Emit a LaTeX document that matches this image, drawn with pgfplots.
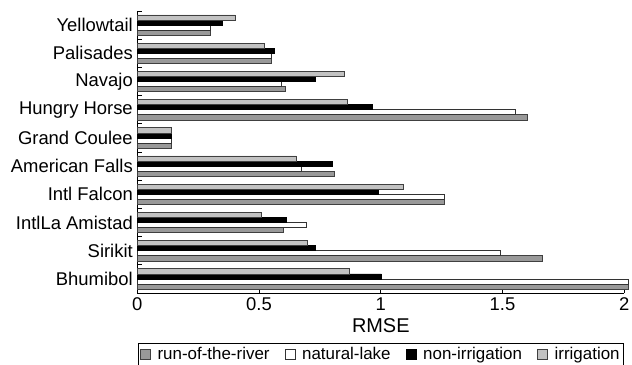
\documentclass[border=0pt]{standalone}
\usepackage{pgfplots}
\pgfplotsset{compat=1.18}
\usepackage{pgfplotstable}
\usepackage{fontspec}
\setmainfont{Liberation Sans}
\definecolor{rorgray}{gray}{0.6}
\definecolor{irrgray}{gray}{0.76}
\pgfplotstableread{
y ror nat non irr
0 2.016 2.016 1.002 0.871
1 1.662 1.492 0.733 0.700
2 0.601 0.692 0.611 0.509
3 1.260 1.260 0.991 1.091
4 0.809 0.672 0.801 0.652
5 0.138 0.138 0.138 0.138
6 1.602 1.551 0.964 0.862
7 0.609 0.593 0.731 0.852
8 0.550 0.550 0.561 0.520
9 0.301 0.301 0.351 0.402
}\datatable
\begin{document}
\begin{tikzpicture}
\begin{axis}[
  scale only axis,
  width=487bp, height=282bp,
  xbar, bar width=0.18,
  xmin=0, xmax=2, ymin=-0.5, ymax=9.5,
  clip=false,
  axis lines*=left,
  axis line style={line width=0.8pt},
  xtick={0,0.5,1,1.5,2},
  xticklabels={0,0.5,1,1.5,2},
  ytick={0,...,9},
  yticklabels={Bhumibol,Sirikit,IntlLa Amistad,Intl Falcon,American Falls,Grand Coulee,Hungry Horse,Navajo,Palisades,Yellowtail},
  minor ytick={-0.5,0.5,...,9.5},
  tick align=inside,
  major tick length=5bp,
  minor tick length=5bp,
  ytick style={draw=none},
  minor y tick style={draw=black,line width=0.8pt},
  xtick style={line width=0.8pt,black},
  /pgf/number format/assume math mode=true,
  tick label style={font=\fontsize{18.5}{20}\selectfont},
  xticklabel style={yshift=-1bp},
  yticklabel style={xshift=-1bp},
  xlabel={RMSE},
  xlabel style={font=\fontsize{20}{22}\selectfont, yshift=-1bp},
  legend columns=4,
  legend style={at={(0.5,-0.177)}, anchor=north, font=\fontsize{17}{19}\selectfont,
    draw=black, line width=0.8pt, inner xsep=2bp, inner ysep=2bp,
    /tikz/every odd column/.append style={column sep=5bp},
    /tikz/every even column/.append style={column sep=13bp}},
  legend image code/.code={\draw[#1, line width=0.6pt] (0bp,-5bp) rectangle (10bp,5bp);},
]
\addplot[fill=rorgray, draw=black!75, line width=0.6pt, bar shift=-0.27] table[x=ror,y=y]{\datatable};
\addplot[fill=white, draw=black!80, line width=0.6pt, bar shift=-0.09] table[x=nat,y=y]{\datatable};
\addplot[fill=black, draw=black, line width=0.6pt, bar shift=0.09] table[x=non,y=y]{\datatable};
\addplot[fill=irrgray, draw=black!75, line width=0.6pt, bar shift=0.27] table[x=irr,y=y]{\datatable};
\legend{run-of-the-river, natural-lake, non-irrigation, irrigation}
\end{axis}
\pgfresetboundingbox
\path (-137.3bp,-72bp) rectangle (494.7bp,293bp);
\end{tikzpicture}
\end{document}
